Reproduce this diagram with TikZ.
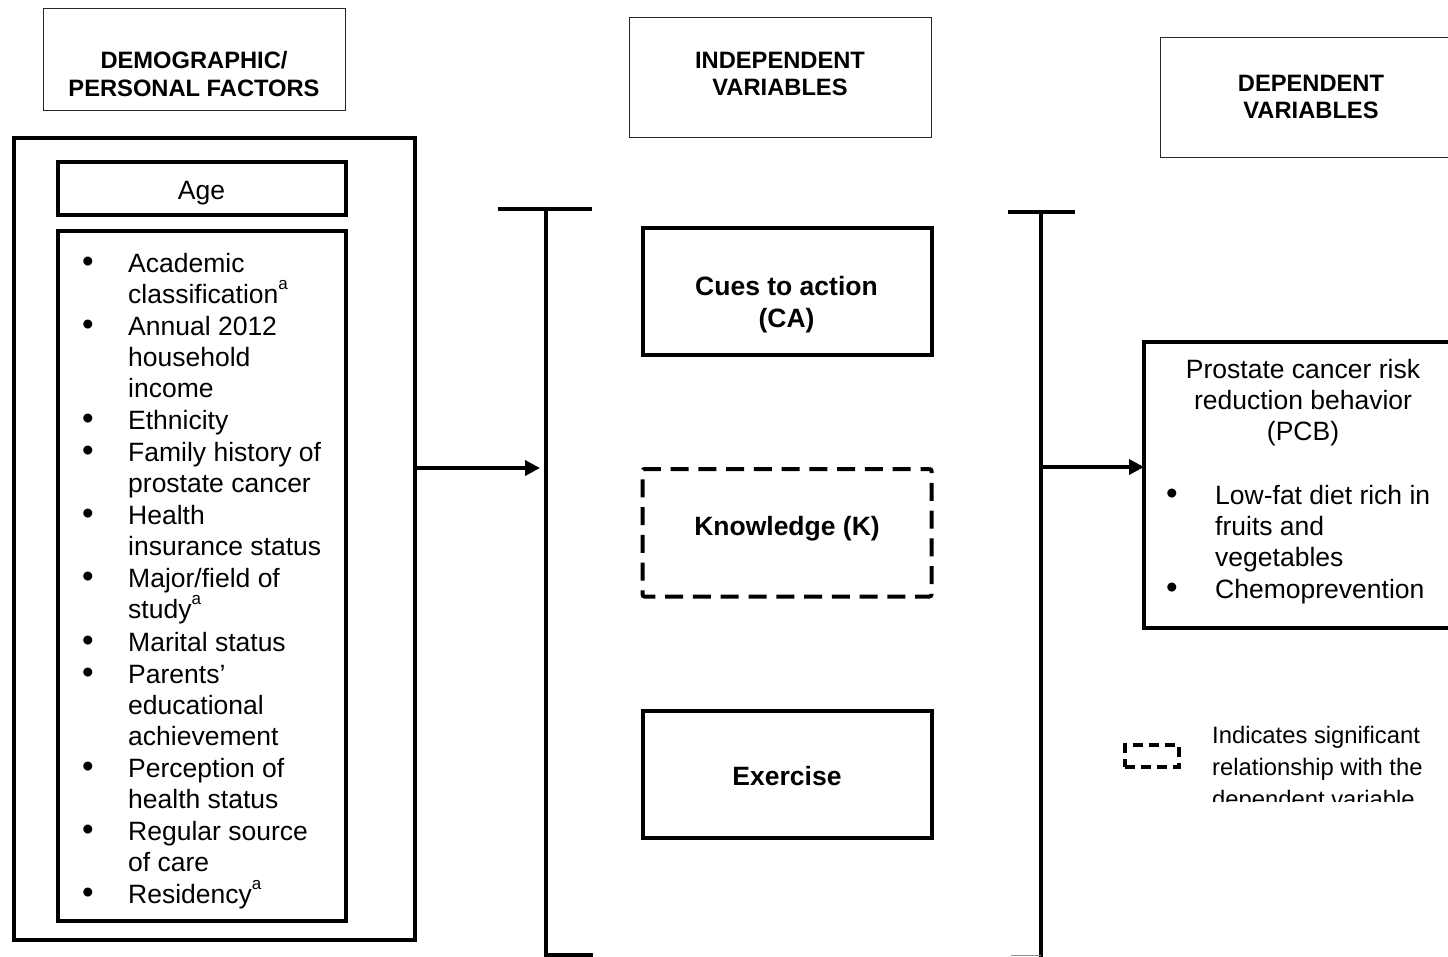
\documentclass[tikz,border=0pt]{standalone}
\usepackage{fontspec}
\setmainfont{Liberation Sans}
\usetikzlibrary{arrows.meta}
\newcommand\mysupa{\raisebox{0.5em}{\fontsize{17}{17}\selectfont a}}
\begin{document}
\begin{tikzpicture}[x=1pt,y=-1pt,
 thinbox/.style={draw=black!85, line width=1pt, inner sep=0pt, outer sep=0pt},
 thickbox/.style={draw, line width=4pt, inner sep=0pt, outer sep=0pt},
 dashbox/.style={draw, line width=4pt, dash pattern=on 18pt off 9.77pt, dash phase=9pt, rounded corners=2pt, inner sep=0pt, outer sep=0pt},
 head/.style={font=\bfseries\fontsize{23.7}{28}\selectfont, align=center, inner sep=0pt, anchor=base},
 btxt/.style={font=\bfseries\fontsize{26.5}{32}\selectfont, inner sep=0pt, anchor=base},
 ctxt/.style={font=\fontsize{26.5}{31.4}\selectfont, inner sep=0pt, anchor=base},
 ltxt/.style={font=\fontsize{26.5}{31.4}\selectfont, inner sep=0pt, anchor=base west},
 bul/.style={font=\fontsize{33}{33}\selectfont, inner sep=0pt, anchor=base},
 leg/.style={font=\fontsize{23.8}{32}\selectfont, inner sep=0pt, anchor=base west},
 bracket/.style={line width=3.5pt},
 arrowline/.style={line width=3.5pt, -{Triangle[length=15pt,width=15pt]}}
]
\useasboundingbox (0,0) rectangle (1448,956);
\clip (0,0) rectangle (1448,956);

% headers
\node[thinbox, minimum width=302pt, minimum height=102pt] (h1) at (194,59) {};
\node[head] (h1a) at (194,68.5) {DEMOGRAPHIC/};
\node[head] (h1b) at (194,96.5) {PERSONAL FACTORS};
\node[thinbox, minimum width=302pt, minimum height=120pt] (h2) at (780,77) {};
\node[head] (h2a) at (780,68.5) {INDEPENDENT};
\node[head] (h2b) at (780,95.5) {VARIABLES};
\node[thinbox, minimum width=310pt, minimum height=120pt] (h3) at (1315,97) {};
\node[head] (h3a) at (1311,91.5) {DEPENDENT};
\node[head] (h3b) at (1311,118.5) {VARIABLES};

% left block
\node[thickbox, minimum width=400.5pt, minimum height=801.5pt] (outer) at (214.25,538.75) {};
\node[thickbox, minimum width=288pt, minimum height=53pt] (agebox) at (201.5,188) {};
\node[ctxt] (age) at (201.5,199) {Age};
\node[thickbox, minimum width=288pt, minimum height=690pt] (listbox) at (201.5,576) {};

\node[bul] (b1) at (88,272) {•};
\node[ltxt] (l1) at (128,272) {Academic};
\node[ltxt] (l2) at (128,303) {classification\mysupa};
\node[bul] (b2) at (88,335) {•};
\node[ltxt] (l3) at (128,335) {Annual 2012};
\node[ltxt] (l4) at (128,366) {household};
\node[ltxt] (l5) at (128,397) {income};
\node[bul] (b3) at (88,429) {•};
\node[ltxt] (l6) at (128,429) {Ethnicity};
\node[bul] (b4) at (88,461) {•};
\node[ltxt] (l7) at (128,461) {Family history of};
\node[ltxt] (l8) at (128,492) {prostate cancer};
\node[bul] (b5) at (88,524) {•};
\node[ltxt] (l9) at (128,524) {Health};
\node[ltxt] (l10) at (128,555) {insurance status};
\node[bul] (b6) at (88,587) {•};
\node[ltxt] (l11) at (128,587) {Major/field of};
\node[ltxt] (l12) at (128,618) {study\mysupa};
\node[bul] (b7) at (88,651) {•};
\node[ltxt] (l13) at (128,651) {Marital status};
\node[bul] (b8) at (88,683) {•};
\node[ltxt] (l14) at (128,683) {Parents’};
\node[ltxt] (l15) at (128,714) {educational};
\node[ltxt] (l16) at (128,745) {achievement};
\node[bul] (b9) at (88,777) {•};
\node[ltxt] (l17) at (128,777) {Perception of};
\node[ltxt] (l18) at (128,808) {health status};
\node[bul] (b10) at (88,840) {•};
\node[ltxt] (l19) at (128,840) {Regular source};
\node[ltxt] (l20) at (128,871) {of care};
\node[bul] (b11) at (88,903) {•};
\node[ltxt] (l21) at (128,903) {Residency\mysupa};

% left bracket
\coordinate (lbt) at (546,209);
\coordinate (lbb) at (546,962);
\coordinate (lbm) at (546,468);
\draw[bracket] (498,209) -- (592,209);
\draw[bracket] (lbt) -- (lbb);
\draw[bracket] (546,955) -- (593,955);
\draw[arrowline, shorten >=6pt] (lbm -| outer.east) -- (lbm);

% middle boxes
\node[thickbox, minimum width=289pt, minimum height=127pt] (ca) at (787,291.5) {};
\node[btxt] (ca1) at (786.5,295) {Cues to action};
\node[btxt] (ca2) at (786.5,327) {(CA)};
\node[dashbox, minimum width=289pt, minimum height=127.5pt] (kbox) at (787,532.75) {};
\node[btxt] (k) at (787,535) {Knowledge (K)};
\node[thickbox, minimum width=289pt, minimum height=127pt] (ex) at (787,774.5) {};
\node[btxt] (ext) at (787,785) {Exercise};

% right bracket
\coordinate (rbt) at (1041,212);
\coordinate (rbb) at (1041,962);
\coordinate (rbm) at (1041,467);
\draw[bracket] (1008,212) -- (1075,212);
\draw[bracket] (rbt) -- (rbb);
\draw[line width=1.5pt, black!45] (1011,955.5) -- (1041,955.5);

% dependent box
\node[thickbox, minimum width=326pt, minimum height=286pt] (pcb) at (1307,485) {};
\draw[arrowline] (rbm) -- (rbm -| pcb.west);
\node[ctxt] (p1) at (1303,378.5) {Prostate cancer risk};
\node[ctxt] (p2) at (1303,409.5) {reduction behavior};
\node[ctxt] (p3) at (1303,440.5) {(PCB)};
\node[bul] (pb1) at (1172,504) {•};
\node[ltxt] (q1) at (1215,504) {Low-fat diet rich in};
\node[ltxt] (q2) at (1215,535) {fruits and};
\node[ltxt] (q3) at (1215,566) {vegetables};
\node[bul] (pb2) at (1172,598) {•};
\node[ltxt] (q4) at (1215,598) {Chemoprevention};

% legend
\node[draw, line width=3.5pt, dash pattern=on 10pt off 6pt, inner sep=0pt, outer sep=0pt, minimum width=54pt, minimum height=22pt] (legbox) at (1152,756) {};
\node[leg] (g1) at (1212,743) {Indicates significant};
\node[leg] (g2) at (1212,775) {relationship with the};
\begin{scope}
\clip (1200,780) rectangle (1448,801);
\node[leg] (g3) at (1212,807) {dependent variable};
\end{scope}
\end{tikzpicture}
\end{document}
